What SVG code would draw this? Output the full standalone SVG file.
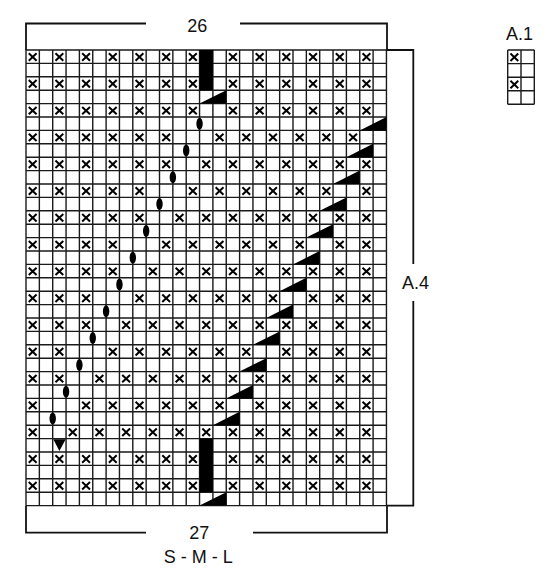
<svg xmlns="http://www.w3.org/2000/svg" xmlns:xlink="http://www.w3.org/1999/xlink" width="550" height="577" viewBox="0 0 550 577">
<style>
.grid{fill:none;stroke:#1a1a1a;stroke-width:1.4}
.br{fill:none;stroke:#111;stroke-width:1.8}
.t{font-family:"Liberation Sans",Arial,sans-serif;font-size:18px;fill:#111}
.blk{fill:#000;stroke:none}
</style>
<defs>
<path id="x" d="M-3.9 -3.7L3.9 3.7M3.9 -3.7L-3.9 3.7" stroke="#000" stroke-width="2" fill="none"/>
<g id="rowA">
<use href="#x" x="32.68"/><use href="#x" x="59.38"/><use href="#x" x="86.08"/><use href="#x" x="112.78"/><use href="#x" x="139.48"/><use href="#x" x="166.18"/><use href="#x" x="192.88"/>
<use href="#x" x="232.93"/><use href="#x" x="259.63"/><use href="#x" x="286.33"/><use href="#x" x="313.03"/><use href="#x" x="339.73"/><use href="#x" x="366.43"/>
</g>
</defs>
<rect width="550" height="577" fill="#fff"/>
<g id="grid">
<path class="grid" d="M26 50V505.6M39.35 50V505.6M52.7 50V505.6M66.05 50V505.6M79.4 50V505.6M92.75 50V505.6M106.1 50V505.6M119.45 50V505.6M132.8 50V505.6M146.15 50V505.6M159.5 50V505.6M172.85 50V505.6M186.2 50V505.6M199.55 50V505.6M212.9 50V505.6M226.25 50V505.6M239.6 50V505.6M252.95 50V505.6M266.3 50V505.6M279.65 50V505.6M293 50V505.6M306.35 50V505.6M319.7 50V505.6M333.05 50V505.6M346.4 50V505.6M359.75 50V505.6M373.1 50V505.6M386.45 50V505.6
M26 50H386.45M26 63.4H386.45M26 76.8H386.45M26 90.2H386.45M26 103.6H386.45M26 117H386.45M26 130.4H386.45M26 143.8H386.45M26 157.2H386.45M26 170.6H386.45M26 184H386.45M26 197.4H386.45M26 210.8H386.45M26 224.2H386.45M26 237.6H386.45M26 251H386.45M26 264.4H386.45M26 277.8H386.45M26 291.2H386.45M26 304.6H386.45M26 318H386.45M26 331.4H386.45M26 344.8H386.45M26 358.2H386.45M26 371.6H386.45M26 385H386.45M26 398.4H386.45M26 411.8H386.45M26 425.2H386.45M26 438.6H386.45M26 452H386.45M26 465.4H386.45M26 478.8H386.45M26 492.2H386.45M26 505.6H386.45"/>
</g>
<g id="crosses">
<use href="#rowA" y="57"/>
<use href="#rowA" y="83.8"/>
<use href="#rowA" y="110.6"/>
<g transform="translate(0,137.4)">
<use href="#x" x="32.68"/><use href="#x" x="59.38"/><use href="#x" x="86.08"/><use href="#x" x="112.78"/><use href="#x" x="139.48"/><use href="#x" x="166.18"/>
<use href="#x" x="219.58"/><use href="#x" x="246.28"/><use href="#x" x="272.98"/><use href="#x" x="299.68"/><use href="#x" x="326.38"/><use href="#x" x="353.08"/>
</g>
<g transform="translate(0,164.2)">
<use href="#x" x="32.68"/><use href="#x" x="59.38"/><use href="#x" x="86.08"/><use href="#x" x="112.78"/><use href="#x" x="139.48"/><use href="#x" x="166.18"/>
<use href="#x" x="206.23"/><use href="#x" x="232.93"/><use href="#x" x="259.63"/><use href="#x" x="286.33"/><use href="#x" x="313.03"/><use href="#x" x="339.73"/><use href="#x" x="366.43"/>
</g>
<g transform="translate(0,191)">
<use href="#x" x="32.68"/><use href="#x" x="59.38"/><use href="#x" x="86.08"/><use href="#x" x="112.78"/><use href="#x" x="139.48"/>
<use href="#x" x="192.88"/><use href="#x" x="219.58"/><use href="#x" x="246.28"/><use href="#x" x="272.98"/><use href="#x" x="299.68"/><use href="#x" x="326.38"/>
<use href="#x" x="366.43"/>
</g>
<g transform="translate(0,217.8)">
<use href="#x" x="32.68"/><use href="#x" x="59.38"/><use href="#x" x="86.08"/><use href="#x" x="112.78"/><use href="#x" x="139.48"/>
<use href="#x" x="179.53"/><use href="#x" x="206.23"/><use href="#x" x="232.93"/><use href="#x" x="259.63"/><use href="#x" x="286.33"/><use href="#x" x="313.03"/><use href="#x" x="339.73"/><use href="#x" x="366.43"/>
</g>
<g transform="translate(0,244.6)">
<use href="#x" x="32.68"/><use href="#x" x="59.38"/><use href="#x" x="86.08"/><use href="#x" x="112.78"/>
<use href="#x" x="166.18"/><use href="#x" x="192.88"/><use href="#x" x="219.58"/><use href="#x" x="246.28"/><use href="#x" x="272.98"/><use href="#x" x="299.68"/>
<use href="#x" x="339.73"/><use href="#x" x="366.43"/>
</g>
<g transform="translate(0,271.4)">
<use href="#x" x="32.68"/><use href="#x" x="59.38"/><use href="#x" x="86.08"/><use href="#x" x="112.78"/>
<use href="#x" x="152.83"/><use href="#x" x="179.53"/><use href="#x" x="206.23"/><use href="#x" x="232.93"/><use href="#x" x="259.63"/><use href="#x" x="286.33"/><use href="#x" x="313.03"/><use href="#x" x="339.73"/><use href="#x" x="366.43"/>
</g>
<g transform="translate(0,298.2)">
<use href="#x" x="32.68"/><use href="#x" x="59.38"/><use href="#x" x="86.08"/>
<use href="#x" x="139.48"/><use href="#x" x="166.18"/><use href="#x" x="192.88"/><use href="#x" x="219.58"/><use href="#x" x="246.28"/><use href="#x" x="272.98"/>
<use href="#x" x="313.03"/><use href="#x" x="339.73"/><use href="#x" x="366.43"/>
</g>
<g transform="translate(0,325)">
<use href="#x" x="32.68"/><use href="#x" x="59.38"/><use href="#x" x="86.08"/>
<use href="#x" x="126.13"/><use href="#x" x="152.83"/><use href="#x" x="179.53"/><use href="#x" x="206.23"/><use href="#x" x="232.93"/><use href="#x" x="259.63"/><use href="#x" x="286.33"/><use href="#x" x="313.03"/><use href="#x" x="339.73"/><use href="#x" x="366.43"/>
</g>
<g transform="translate(0,351.8)">
<use href="#x" x="32.68"/><use href="#x" x="59.38"/>
<use href="#x" x="112.78"/><use href="#x" x="139.48"/><use href="#x" x="166.18"/><use href="#x" x="192.88"/><use href="#x" x="219.58"/><use href="#x" x="246.28"/>
<use href="#x" x="286.33"/><use href="#x" x="313.03"/><use href="#x" x="339.73"/><use href="#x" x="366.43"/>
</g>
<g transform="translate(0,378.6)">
<use href="#x" x="32.68"/><use href="#x" x="59.38"/>
<use href="#x" x="99.43"/><use href="#x" x="126.13"/><use href="#x" x="152.83"/><use href="#x" x="179.53"/><use href="#x" x="206.23"/><use href="#x" x="232.93"/><use href="#x" x="259.63"/><use href="#x" x="286.33"/><use href="#x" x="313.03"/><use href="#x" x="339.73"/><use href="#x" x="366.43"/>
</g>
<g transform="translate(0,405.4)">
<use href="#x" x="32.68"/>
<use href="#x" x="86.08"/><use href="#x" x="112.78"/><use href="#x" x="139.48"/><use href="#x" x="166.18"/><use href="#x" x="192.88"/><use href="#x" x="219.58"/>
<use href="#x" x="259.63"/><use href="#x" x="286.33"/><use href="#x" x="313.03"/><use href="#x" x="339.73"/><use href="#x" x="366.43"/>
</g>
<g transform="translate(0,432.2)">
<use href="#x" x="32.68"/>
<use href="#x" x="72.73"/><use href="#x" x="99.43"/><use href="#x" x="126.13"/><use href="#x" x="152.83"/><use href="#x" x="179.53"/><use href="#x" x="206.23"/><use href="#x" x="232.93"/><use href="#x" x="259.63"/><use href="#x" x="286.33"/><use href="#x" x="313.03"/><use href="#x" x="339.73"/><use href="#x" x="366.43"/>
</g>
<use href="#rowA" y="459"/>
<use href="#rowA" y="485.8"/>
</g>
<g id="symbols">
<rect class="blk" x="199.55" y="50" width="13.35" height="40.2"/>
<rect class="blk" x="199.55" y="438.6" width="13.35" height="53.6"/>
<path class="blk" d="M199.55 103.6L226.25 90.2V103.6Z"/>
<path class="blk" d="M199.55 505.6L226.25 492.2V505.6Z"/>
<path class="blk" d="M359.75 130.4L386.45 117V130.4Z"/>
<path class="blk" d="M346.4 157.2L373.1 143.8V157.2Z"/>
<path class="blk" d="M333.05 184L359.75 170.6V184Z"/>
<path class="blk" d="M319.7 210.8L346.4 197.4V210.8Z"/>
<path class="blk" d="M306.35 237.6L333.05 224.2V237.6Z"/>
<path class="blk" d="M293 264.4L319.7 251V264.4Z"/>
<path class="blk" d="M279.65 291.2L306.35 277.8V291.2Z"/>
<path class="blk" d="M266.3 318L293 304.6V318Z"/>
<path class="blk" d="M252.95 344.8L279.65 331.4V344.8Z"/>
<path class="blk" d="M239.6 371.6L266.3 358.2V371.6Z"/>
<path class="blk" d="M226.25 398.4L252.95 385V398.4Z"/>
<path class="blk" d="M212.9 425.2L239.6 411.8V425.2Z"/>
<ellipse class="blk" cx="199.55" cy="123.7" rx="3.2" ry="6"/>
<ellipse class="blk" cx="186.2" cy="150.5" rx="3.2" ry="6"/>
<ellipse class="blk" cx="172.85" cy="177.3" rx="3.2" ry="6"/>
<ellipse class="blk" cx="159.5" cy="204.1" rx="3.2" ry="6"/>
<ellipse class="blk" cx="146.15" cy="230.9" rx="3.2" ry="6"/>
<ellipse class="blk" cx="132.8" cy="257.7" rx="3.2" ry="6"/>
<ellipse class="blk" cx="119.45" cy="284.5" rx="3.2" ry="6"/>
<ellipse class="blk" cx="106.1" cy="311.3" rx="3.2" ry="6"/>
<ellipse class="blk" cx="92.75" cy="338.1" rx="3.2" ry="6"/>
<ellipse class="blk" cx="79.4" cy="364.9" rx="3.2" ry="6"/>
<ellipse class="blk" cx="66.05" cy="391.7" rx="3.2" ry="6"/>
<ellipse class="blk" cx="52.7" cy="418.5" rx="3.2" ry="6"/>
<path class="blk" d="M53.3 439.2H65.7L59.4 451Z"/>
</g>
<g id="brackets">
<path class="br" d="M26 50V23.5H146M240 23.5H387V50"/>
<path class="br" d="M26 505.6V532.7H146M253 532.7H387V505.6"/>
<path class="br" d="M386.45 50H413.3V264M413.3 301V505.6H386.45"/>
</g>
<g id="labels">
<text class="t" x="197.3" y="31.7" text-anchor="middle">26</text>
<text class="t" x="199.3" y="539" text-anchor="middle">27</text>
<text class="t" x="198.3" y="562.5" text-anchor="middle">S - M - L</text>
<text class="t" x="402" y="289">A.4</text>
</g>
<g id="legend-A1">
<text class="t" x="506" y="40">A.1</text>
<path class="grid" d="M507.7 50V104.3M521 50V104.3M534.3 50V104.3M507.7 50H534.3M507.7 63.6H534.3M507.7 77.2H534.3M507.7 90.7H534.3M507.7 104.3H534.3"/>
<use href="#x" x="514.35" y="57.3"/>
<use href="#x" x="514.35" y="84.5"/>
</g>
</svg>
